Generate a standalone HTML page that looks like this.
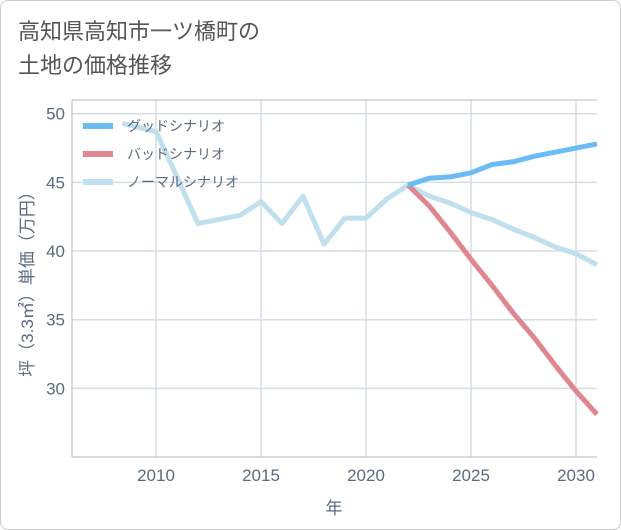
<!DOCTYPE html>
<html><head><meta charset="utf-8">
<style>
body{margin:0;background:#fff;font-family:"Liberation Sans","Noto Sans CJK JP",sans-serif;}
#wrap{position:relative;width:619px;height:528px;border:1px solid #ccc;border-radius:8px;background:#fff;overflow:hidden}
#title{position:absolute;left:17px;top:14px;font-size:22px;line-height:34px;color:#555;}
</style></head><body>
<div id="wrap">
<div id="title">高知県高知市一ツ橋町の<br>土地の価格推移</div>
<svg id="chart" width="621" height="530" style="position:absolute;left:-1px;top:-1px"></svg>
</div>
<script>
const normalYears=[2008.4,2010,2011,2012,2013,2014,2015,2016,2017,2018,2019,2020,2021,2022,2023,2024,2025,2026,2027,2028,2029,2030,2031];
const normalVals=[49.3,48.7,45.4,42.0,42.3,42.6,43.6,42.0,44.0,40.5,42.4,42.4,43.8,44.8,44.0,43.5,42.8,42.3,41.6,41.0,40.3,39.8,39.0];
const futureYears=[2022,2023,2024,2025,2026,2027,2028,2029,2030,2031];
const goodVals=[44.8,45.3,45.4,45.7,46.3,46.5,46.9,47.2,47.5,47.8];
const badVals=[44.8,43.3,41.4,39.4,37.5,35.5,33.7,31.7,29.8,28.1];
const xTicks=[2010,2015,2020,2025,2030];
const yTicks=[30,35,40,45,50];
const NS="http://www.w3.org/2000/svg";
const svg=document.getElementById('chart');
const L=72,R=597,T=100,B=457;
const x=v=>L+(v-2006)*(R-L)/25;
const y=v=>B-(v-25)*(B-T)/26;
function mk(t,a,p){const e=document.createElementNS(NS,t);for(const k in a)e.setAttribute(k,a[k]);(p||svg).appendChild(e);return e;}
const grid=mk('g',{});


xTicks.forEach(t=>{mk('line',{x1:x(t),x2:x(t),y1:T,y2:B,stroke:'#d5dde5','stroke-width':1.5},grid);
 const tx=mk('text',{x:x(t),y:B+24,'text-anchor':'middle','font-size':17,fill:'#5a6b80'});tx.textContent=t;
 });
yTicks.forEach(t=>{mk('line',{x1:L,x2:R,y1:y(t),y2:y(t),stroke:'#d5dde5','stroke-width':1.5},grid);
 const tx=mk('text',{x:L-7,y:y(t)+6,'text-anchor':'end','font-size':17,fill:'#5a6b80'});tx.textContent=t;
 });
mk('line',{x1:L,x2:L,y1:T,y2:B,stroke:'#b0b8c0','stroke-width':1});
mk('line',{x1:L,x2:R,y1:B,y2:B,stroke:'#b0b8c0','stroke-width':1});
mk('line',{x1:L,x2:R,y1:T,y2:T,stroke:'#b0b8c0','stroke-width':1});
function line(xs,vs,c,n){const p=mk('polyline',{points:xs.map((a,i)=>x(a)+','+y(vs[i])).join(' '),fill:'none',stroke:c,'stroke-width':5,'stroke-linejoin':'round'});
 }
line(normalYears,normalVals,'#bfe0ec','normal-line');
line(futureYears,badVals,'#e0868f','bad-line');
line(futureYears,goodVals,'#6bbcf5','good-line');
const lg=[['グッドシナリオ','#6bbcf5'],['バッドシナリオ','#e0868f'],['ノーマルシナリオ','#bfe0ec']];
lg.forEach((d,i)=>{const g=mk('g',{});
 const yy=126+i*28;mk('rect',{x:83,y:yy-3,width:30,height:6,fill:d[1]},g);
 const t=mk('text',{x:127,y:yy+5,'font-size':14,fill:'#5a6b80'},g);t.textContent=d[0];});
const xl=mk('text',{x:334,y:514,'text-anchor':'middle','font-size':17,fill:'#5a6b80'});xl.textContent='年';

const yl=mk('text',{x:33,y:280,'text-anchor':'middle','font-size':17,fill:'#5a6b80',transform:'rotate(-90 33 280)'});yl.textContent='坪（3.3㎡）単価（万円）';

</script>
</body></html>
